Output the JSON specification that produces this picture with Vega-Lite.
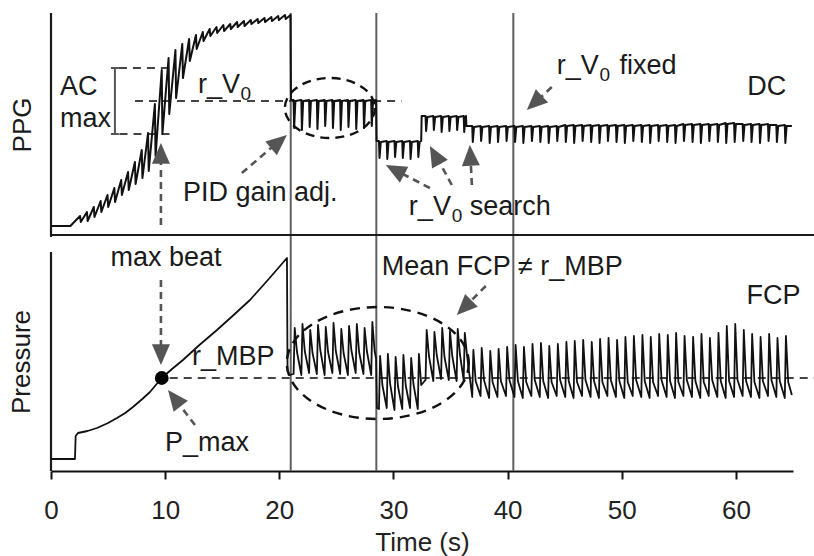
{
  "$schema": "https://vega.github.io/schema/vega-lite/v6.json",
  "width": 742,
  "height": 458,
  "autosize": "none",
  "padding": {"left": 51, "top": 13, "right": 21, "bottom": 85},
  "background": "white",
  "config": {"view": {"stroke": null}, "font": "Liberation Sans"},
  "datasets": {
    "ppg": [
      {"t":0,"v":245},{"t":1.7,"v":245},{"t":2.2,"v":251},
      {"t":2.55,"v":255},{"t":2.61,"v":249},{"t":3.15,"v":259},{"t":3.21,"v":250},
      {"t":3.75,"v":264},{"t":3.81,"v":254},{"t":4.35,"v":270},{"t":4.41,"v":259},
      {"t":4.95,"v":276},{"t":5.01,"v":264},{"t":5.55,"v":283},{"t":5.61,"v":269},
      {"t":6.15,"v":291},{"t":6.21,"v":276},{"t":6.75,"v":299},{"t":6.81,"v":281},
      {"t":7.35,"v":309},{"t":7.41,"v":287},{"t":7.95,"v":321},{"t":8.01,"v":293},
      {"t":8.5,"v":338},{"t":8.56,"v":300},{"t":9.1,"v":367},{"t":9.16,"v":315},
      {"t":9.7,"v":401},{"t":9.76,"v":337},{"t":10.3,"v":413},{"t":10.36,"v":357},
      {"t":10.9,"v":421},{"t":10.96,"v":373},{"t":11.5,"v":427},{"t":11.56,"v":393},
      {"t":12.1,"v":432},{"t":12.16,"v":410},{"t":12.7,"v":436},{"t":12.76,"v":422},
      {"t":13.3,"v":439},{"t":13.36,"v":430},{"t":13.9,"v":442},{"t":13.96,"v":435},
      {"t":14.5,"v":444},{"t":14.56,"v":438},{"t":15.1,"v":446},{"t":15.16,"v":440},
      {"t":15.7,"v":447},{"t":15.76,"v":442},{"t":16.3,"v":449},{"t":16.36,"v":444},
      {"t":16.9,"v":450},{"t":16.96,"v":445},{"t":17.5,"v":451},{"t":17.56,"v":447},
      {"t":18.1,"v":452},{"t":18.16,"v":448},{"t":18.7,"v":453},{"t":18.76,"v":449},
      {"t":19.3,"v":454},{"t":19.36,"v":450},{"t":19.9,"v":455},{"t":19.96,"v":451},
      {"t":20.5,"v":456},{"t":20.56,"v":452},{"t":20.98,"v":456},{"t":21.02,"v":371},
      {"t":21.25,"v":371},{"t":21.3,"v":343},{"t":21.41,"v":370},
      {"t":21.93,"v":371},{"t":21.98,"v":341},{"t":22.09,"v":370},
      {"t":22.61,"v":371},{"t":22.66,"v":344},{"t":22.77,"v":370},
      {"t":23.29,"v":371},{"t":23.34,"v":342},{"t":23.45,"v":370},
      {"t":23.97,"v":371},{"t":24.02,"v":345},{"t":24.13,"v":370},
      {"t":24.65,"v":371},{"t":24.7,"v":343},{"t":24.81,"v":370},
      {"t":25.33,"v":371},{"t":25.38,"v":341},{"t":25.49,"v":370},
      {"t":26.01,"v":371},{"t":26.06,"v":344},{"t":26.17,"v":370},
      {"t":26.69,"v":371},{"t":26.74,"v":342},{"t":26.85,"v":370},
      {"t":27.37,"v":371},{"t":27.42,"v":343},{"t":27.53,"v":370},
      {"t":28.05,"v":371},{"t":28.1,"v":345},{"t":28.21,"v":370},
      {"t":28.48,"v":371},{"t":28.52,"v":330},
      {"t":28.73,"v":330},{"t":28.78,"v":313},{"t":28.89,"v":329},
      {"t":29.41,"v":330},{"t":29.46,"v":312},{"t":29.57,"v":329},
      {"t":30.09,"v":330},{"t":30.14,"v":314},{"t":30.25,"v":329},
      {"t":30.77,"v":330},{"t":30.82,"v":313},{"t":30.93,"v":329},
      {"t":31.45,"v":330},{"t":31.5,"v":312},{"t":31.61,"v":329},
      {"t":32.13,"v":330},{"t":32.18,"v":314},{"t":32.29,"v":329},
      {"t":32.43,"v":330},{"t":32.47,"v":355},
      {"t":32.81,"v":355},{"t":32.86,"v":340},{"t":32.97,"v":354},
      {"t":33.49,"v":355},{"t":33.54,"v":341},{"t":33.65,"v":354},
      {"t":34.17,"v":355},{"t":34.22,"v":339},{"t":34.33,"v":354},
      {"t":34.85,"v":355},{"t":34.9,"v":340},{"t":35.01,"v":354},
      {"t":35.53,"v":355},{"t":35.58,"v":341},{"t":35.69,"v":354},
      {"t":36.15,"v":355},{"t":36.2,"v":339},{"t":36.31,"v":354},
      {"t":36.35,"v":355},{"t":36.39,"v":345},
      {"t":36.9,"v":345},{"t":36.95,"v":329},{"t":37.06,"v":344},
      {"t":37.63,"v":345},{"t":37.68,"v":330},{"t":37.79,"v":344},
      {"t":38.38,"v":345},{"t":38.43,"v":328},{"t":38.54,"v":344},
      {"t":39.11,"v":345},{"t":39.16,"v":329},{"t":39.27,"v":344},
      {"t":39.86,"v":345},{"t":39.91,"v":330},{"t":40.02,"v":344},
      {"t":40.6,"v":345},{"t":40.65,"v":329},{"t":40.76,"v":344},
      {"t":41.33,"v":345},{"t":41.38,"v":328},{"t":41.49,"v":344},
      {"t":42.08,"v":345},{"t":42.13,"v":330},{"t":42.24,"v":344},
      {"t":42.82,"v":345},{"t":42.87,"v":329},{"t":42.98,"v":344},
      {"t":43.55,"v":345},{"t":43.6,"v":328},{"t":43.71,"v":344},
      {"t":44.3,"v":345},{"t":44.35,"v":330},{"t":44.46,"v":344},
      {"t":45.05,"v":346},{"t":45.1,"v":329},{"t":45.21,"v":345},
      {"t":45.78,"v":346},{"t":45.83,"v":328},{"t":45.94,"v":345},
      {"t":46.52,"v":346},{"t":46.57,"v":330},{"t":46.68,"v":345},
      {"t":47.27,"v":346},{"t":47.32,"v":329},{"t":47.43,"v":345},
      {"t":48.0,"v":346},{"t":48.05,"v":328},{"t":48.16,"v":345},
      {"t":48.74,"v":346},{"t":48.79,"v":330},{"t":48.9,"v":345},
      {"t":49.49,"v":346},{"t":49.54,"v":329},{"t":49.65,"v":345},
      {"t":50.22,"v":346},{"t":50.27,"v":328},{"t":50.38,"v":345},
      {"t":50.96,"v":346},{"t":51.01,"v":330},{"t":51.12,"v":345},
      {"t":51.71,"v":346},{"t":51.76,"v":329},{"t":51.87,"v":345},
      {"t":52.44,"v":346},{"t":52.49,"v":328},{"t":52.6,"v":345},
      {"t":53.18,"v":346},{"t":53.23,"v":330},{"t":53.34,"v":345},
      {"t":53.93,"v":346},{"t":53.98,"v":329},{"t":54.09,"v":345},
      {"t":54.66,"v":346},{"t":54.71,"v":328},{"t":54.82,"v":345},
      {"t":55.4,"v":347},{"t":55.45,"v":330},{"t":55.56,"v":346},
      {"t":56.15,"v":347},{"t":56.2,"v":329},{"t":56.31,"v":346},
      {"t":56.88,"v":347},{"t":56.93,"v":328},{"t":57.04,"v":346},
      {"t":57.62,"v":347},{"t":57.67,"v":330},{"t":57.78,"v":346},
      {"t":58.37,"v":347},{"t":58.42,"v":329},{"t":58.53,"v":346},
      {"t":59.1,"v":348},{"t":59.15,"v":328},{"t":59.26,"v":347},
      {"t":59.84,"v":348},{"t":59.89,"v":329},{"t":60.0,"v":347},
      {"t":60.59,"v":347},{"t":60.64,"v":330},{"t":60.75,"v":346},
      {"t":61.32,"v":347},{"t":61.37,"v":329},{"t":61.48,"v":346},
      {"t":62.06,"v":347},{"t":62.11,"v":328},{"t":62.22,"v":346},
      {"t":62.81,"v":347},{"t":62.86,"v":330},{"t":62.97,"v":346},
      {"t":63.54,"v":346},{"t":63.59,"v":329},{"t":63.7,"v":345},
      {"t":64.28,"v":346},{"t":64.33,"v":328},{"t":64.44,"v":345},
      {"t":64.9,"v":345}
    ],
    "fcp": [
      {"t":0,"v":12},{"t":2.1,"v":12},{"t":2.16,"v":35},{"t":2.36,"v":38},{"t":3.2,"v":40},
      {"t":4.03,"v":43},{"t":5.0,"v":48},{"t":5.78,"v":53},{"t":6.5,"v":58},{"t":7.18,"v":64},
      {"t":8.0,"v":72},{"t":8.67,"v":79},{"t":9.7,"v":93},{"t":10.6,"v":102},{"t":11.56,"v":111},
      {"t":13.0,"v":126},{"t":14.54,"v":141},{"t":16.0,"v":156},{"t":17.43,"v":171},{"t":19.0,"v":191},
      {"t":20.67,"v":213},{"t":20.72,"v":100},{"t":20.9,"v":96},
      {"t":21.25,"v":97},{"t":21.35,"v":143},{"t":21.55,"v":119},
      {"t":21.93,"v":96},{"t":22.03,"v":147},{"t":22.23,"v":120},
      {"t":22.61,"v":98},{"t":22.71,"v":141},{"t":22.91,"v":118},
      {"t":23.29,"v":97},{"t":23.39,"v":146},{"t":23.59,"v":121},
      {"t":23.97,"v":96},{"t":24.07,"v":144},{"t":24.27,"v":119},
      {"t":24.65,"v":98},{"t":24.75,"v":148},{"t":24.95,"v":120},
      {"t":25.33,"v":97},{"t":25.43,"v":142},{"t":25.63,"v":118},
      {"t":26.01,"v":96},{"t":26.11,"v":145},{"t":26.31,"v":121},
      {"t":26.69,"v":98},{"t":26.79,"v":147},{"t":26.99,"v":119},
      {"t":27.37,"v":97},{"t":27.47,"v":143},{"t":27.67,"v":120},
      {"t":28.05,"v":96},{"t":28.15,"v":149},{"t":28.35,"v":120},
      {"t":28.48,"v":112},{"t":28.55,"v":63},
      {"t":28.73,"v":62},{"t":28.83,"v":115},{"t":29.03,"v":86},
      {"t":29.41,"v":63},{"t":29.51,"v":117},{"t":29.71,"v":87},
      {"t":30.09,"v":61},{"t":30.19,"v":114},{"t":30.39,"v":85},
      {"t":30.77,"v":62},{"t":30.87,"v":116},{"t":31.07,"v":86},
      {"t":31.45,"v":63},{"t":31.55,"v":113},{"t":31.75,"v":87},
      {"t":32.13,"v":62},{"t":32.23,"v":117},{"t":32.43,"v":86},
      {"t":32.81,"v":91},{"t":32.91,"v":141},{"t":33.11,"v":115},
      {"t":33.49,"v":90},{"t":33.59,"v":139},{"t":33.79,"v":116},
      {"t":34.17,"v":92},{"t":34.27,"v":143},{"t":34.47,"v":114},
      {"t":34.85,"v":91},{"t":34.95,"v":140},{"t":35.15,"v":115},
      {"t":35.53,"v":90},{"t":35.63,"v":142},{"t":35.83,"v":116},
      {"t":36.15,"v":91},{"t":36.25,"v":138},{"t":36.45,"v":115},
      {"t":36.9,"v":74},{"t":37.0,"v":121},{"t":37.2,"v":90},
      {"t":37.63,"v":75},{"t":37.73,"v":123},{"t":37.93,"v":91},
      {"t":38.38,"v":73},{"t":38.48,"v":120},{"t":38.68,"v":89},
      {"t":39.11,"v":74},{"t":39.21,"v":122},{"t":39.41,"v":90},
      {"t":39.86,"v":75},{"t":39.96,"v":124},{"t":40.16,"v":91},
      {"t":40.6,"v":74},{"t":40.7,"v":126},{"t":40.9,"v":90},
      {"t":41.33,"v":73},{"t":41.43,"v":124},{"t":41.63,"v":89},
      {"t":42.08,"v":75},{"t":42.18,"v":127},{"t":42.38,"v":91},
      {"t":42.82,"v":74},{"t":42.92,"v":128},{"t":43.12,"v":90},
      {"t":43.55,"v":73},{"t":43.65,"v":125},{"t":43.85,"v":89},
      {"t":44.3,"v":75},{"t":44.4,"v":127},{"t":44.6,"v":91},
      {"t":45.05,"v":74},{"t":45.15,"v":129},{"t":45.35,"v":90},
      {"t":45.78,"v":73},{"t":45.88,"v":130},{"t":46.08,"v":89},
      {"t":46.52,"v":75},{"t":46.62,"v":131},{"t":46.82,"v":91},
      {"t":47.27,"v":74},{"t":47.37,"v":129},{"t":47.57,"v":90},
      {"t":48.0,"v":73},{"t":48.1,"v":132},{"t":48.3,"v":89},
      {"t":48.74,"v":75},{"t":48.84,"v":133},{"t":49.04,"v":91},
      {"t":49.49,"v":74},{"t":49.59,"v":131},{"t":49.79,"v":90},
      {"t":50.22,"v":73},{"t":50.32,"v":134},{"t":50.52,"v":89},
      {"t":50.96,"v":75},{"t":51.06,"v":135},{"t":51.26,"v":91},
      {"t":51.71,"v":74},{"t":51.81,"v":136},{"t":52.01,"v":90},
      {"t":52.44,"v":73},{"t":52.54,"v":134},{"t":52.74,"v":89},
      {"t":53.18,"v":75},{"t":53.28,"v":137},{"t":53.48,"v":91},
      {"t":53.93,"v":74},{"t":54.03,"v":136},{"t":54.23,"v":90},
      {"t":54.66,"v":73},{"t":54.76,"v":138},{"t":54.96,"v":89},
      {"t":55.4,"v":75},{"t":55.5,"v":135},{"t":55.7,"v":91},
      {"t":56.15,"v":74},{"t":56.25,"v":134},{"t":56.45,"v":90},
      {"t":56.88,"v":73},{"t":56.98,"v":137},{"t":57.18,"v":89},
      {"t":57.62,"v":75},{"t":57.72,"v":133},{"t":57.92,"v":91},
      {"t":58.37,"v":74},{"t":58.47,"v":138},{"t":58.67,"v":90},
      {"t":59.1,"v":73},{"t":59.2,"v":145},{"t":59.4,"v":90},
      {"t":59.84,"v":74},{"t":59.94,"v":147},{"t":60.14,"v":91},
      {"t":60.59,"v":75},{"t":60.69,"v":141},{"t":60.89,"v":90},
      {"t":61.32,"v":74},{"t":61.42,"v":137},{"t":61.62,"v":89},
      {"t":62.06,"v":73},{"t":62.16,"v":134},{"t":62.36,"v":90},
      {"t":62.81,"v":75},{"t":62.91,"v":137},{"t":63.11,"v":91},
      {"t":63.54,"v":74},{"t":63.64,"v":133},{"t":63.84,"v":90},
      {"t":64.28,"v":73},{"t":64.38,"v":135},{"t":64.58,"v":89},
      {"t":64.9,"v":76}
    ],
    "phases": [{"t":21.0,"v":0,"v2":458},{"t":28.5,"v":0,"v2":458},{"t":40.5,"v":0,"v2":458}],
    "frame": [
      {"t":0,"v":234,"t2":0,"v2":458},
      {"t":0,"v":0,"t2":0,"v2":219},
      {"t":0,"v":236,"t2":66.9,"v2":236}
    ],
    "bracket": [
      {"t":5.6,"v":337,"t2":5.6,"v2":403},
      {"t":5.25,"v":403,"t2":5.95,"v2":403},
      {"t":5.25,"v":337,"t2":5.95,"v2":337}
    ],
    "guides": [
      {"t":5.95,"v":403,"t2":10.2,"v2":403},
      {"t":6.0,"v":337,"t2":10.8,"v2":337},
      {"t":7.36,"v":370,"t2":30.7,"v2":370},
      {"t":10.4,"v":93,"t2":66.9,"v2":93}
    ],
    "shafts": [
      {"t":9.63,"v":246,"t2":9.63,"v2":322},
      {"t":16.72,"v":298,"t2":20.2,"v2":332},
      {"t":43.87,"v":384,"t2":42.0,"v2":364},
      {"t":33.19,"v":283,"t2":29.8,"v2":303},
      {"t":35.11,"v":286,"t2":33.5,"v2":320},
      {"t":36.87,"v":286,"t2":36.72,"v2":320},
      {"t":38.09,"v":185,"t2":35.9,"v2":160},
      {"t":9.63,"v":191,"t2":9.63,"v2":112},
      {"t":12.61,"v":46,"t2":10.6,"v2":76}
    ],
    "heads": [
      {"t":9.63,"v":328,"dir":0},
      {"t":20.67,"v":336,"dir":50},
      {"t":41.68,"v":361,"dir":227},
      {"t":29.33,"v":306,"dir":298},
      {"t":33.19,"v":325,"dir":331},
      {"t":36.69,"v":326,"dir":357},
      {"t":35.55,"v":156,"dir":225},
      {"t":9.63,"v":106,"dir":180},
      {"t":10.25,"v":81,"dir":322}
    ],
    "ring1": [{"t":24.43,"v":363}],
    "ring2": [{"t":28.63,"v":108}],
    "dot": [{"t":9.7,"v":93}],
    "notes": [
      {"t":0.79,"v":384,"s":"AC"},
      {"t":0.79,"v":352,"s":"max"},
      {"t":12.87,"v":386,"s":"r_V"},
      {"t":11.56,"v":278,"s":"PID gain adj."},
      {"t":44.31,"v":405,"s":"r_V"},
      {"t":49.8,"v":405,"s":"fixed"},
      {"t":31.35,"v":264,"s":"r_V"},
      {"t":36.69,"v":264,"s":"search"},
      {"t":12.35,"v":114,"s":"r_MBP"},
      {"t":9.98,"v":28,"s":"P_max"},
      {"t":28.98,"v":204,"s":"Mean FCP ≠ r_MBP"}
    ],
    "centred": [
      {"t":62.7,"v":384,"s":"DC"},
      {"t":63.3,"v":175,"s":"FCP"},
      {"t":10.07,"v":213,"s":"max beat"}
    ],
    "subs": [
      {"t":16.6,"v":377,"s":"0"},
      {"t":48.05,"v":396,"s":"0"},
      {"t":35.1,"v":255,"s":"0"}
    ],
    "ytitles": [
      {"t":-2.45,"v":346,"s":"PPG"},
      {"t":-2.54,"v":109,"s":"Pressure"}
    ]
  },
  "encoding": {
    "x": {"field": "t", "type": "quantitative", "scale": {"domain": [0, 65], "nice": false},
      "axis": {"values": [0, 10, 20, 30, 40, 50, 60], "format": "d", "title": "Time (s)",
        "grid": false, "labelFont": "Liberation Sans", "titleFont": "Liberation Sans",
        "labelFontSize": 26, "titleFontSize": 26, "titleFontWeight": "normal",
        "labelColor": "#222", "titleColor": "#222", "domainColor": "#111", "domainWidth": 2.2,
        "tickColor": "#111", "tickWidth": 2, "tickSize": 8, "labelPadding": 18, "titlePadding": 6,
        "labelFlush": false, "labelOverlap": false}},
    "y": {"field": "v", "type": "quantitative", "scale": {"domain": [0, 458], "nice": false}, "axis": null}
  },
  "layer": [
    {
      "data": {"name": "phases"},
      "mark": {"type": "rule", "color": "#5f5f5f", "strokeWidth": 2},
      "encoding": {"y2": {"field": "v2"}}
    },
    {
      "data": {"name": "frame"},
      "mark": {"type": "rule", "color": "#1a1a1a", "strokeWidth": 2.2},
      "encoding": {"x2": {"field": "t2"}, "y2": {"field": "v2"}}
    },
    {
      "data": {"name": "bracket"},
      "mark": {"type": "rule", "color": "#555", "strokeWidth": 2},
      "encoding": {"x2": {"field": "t2"}, "y2": {"field": "v2"}}
    },
    {
      "data": {"name": "guides"},
      "mark": {"type": "rule", "color": "#444", "strokeWidth": 2, "strokeDash": [8, 6]},
      "encoding": {"x2": {"field": "t2"}, "y2": {"field": "v2"}}
    },
    {
      "data": {"name": "ppg"},
      "mark": {"type": "line", "color": "#111", "strokeWidth": 2, "strokeJoin": "round"},
      "encoding": {}
    },
    {
      "data": {"name": "fcp"},
      "mark": {"type": "line", "color": "#111", "strokeWidth": 1.8, "strokeJoin": "round"},
      "encoding": {}
    },
    {
      "data": {"name": "ring1"},
      "mark": {"type": "point", "shape": "M1,0C1,0.368,0.552,0.667,0,0.667C-0.552,0.667,-1,0.368,-1,0C-1,-0.368,-0.552,-0.667,0,-0.667C0.552,-0.667,1,-0.368,1,0Z",
        "size": 8100, "filled": false, "stroke": "#111", "strokeWidth": 2.4, "strokeDash": [9, 6], "opacity": 1}
    },
    {
      "data": {"name": "ring2"},
      "mark": {"type": "point", "shape": "M1,0C1,0.34,0.552,0.615,0,0.615C-0.552,0.615,-1,0.34,-1,0C-1,-0.34,-0.552,-0.615,0,-0.615C0.552,-0.615,1,-0.34,1,0Z",
        "size": 33124, "filled": false, "stroke": "#111", "strokeWidth": 2.4, "strokeDash": [10, 7], "opacity": 1}
    },
    {
      "data": {"name": "shafts"},
      "mark": {"type": "rule", "color": "#555", "strokeWidth": 2.6, "strokeDash": [7, 5]},
      "encoding": {"x2": {"field": "t2"}, "y2": {"field": "v2"}}
    },
    {
      "data": {"name": "heads"},
      "mark": {"type": "point", "shape": "M0,0L-1,2.3L1,2.3Z", "size": 324, "filled": true,
        "color": "#555", "opacity": 1},
      "encoding": {"angle": {"field": "dir", "type": "quantitative", "scale": null}}
    },
    {
      "data": {"name": "dot"},
      "mark": {"type": "point", "shape": "circle", "size": 190, "filled": true, "color": "#000", "opacity": 1}
    },
    {
      "data": {"name": "notes"},
      "mark": {"type": "text", "align": "left", "baseline": "middle", "font": "Liberation Sans", "fontSize": 27, "color": "#1a1a1a"},
      "encoding": {"text": {"field": "s"}}
    },
    {
      "data": {"name": "centred"},
      "mark": {"type": "text", "align": "center", "baseline": "middle", "font": "Liberation Sans", "fontSize": 27, "color": "#1a1a1a"},
      "encoding": {"text": {"field": "s"}}
    },
    {
      "data": {"name": "subs"},
      "mark": {"type": "text", "align": "left", "baseline": "middle", "font": "Liberation Sans", "fontSize": 19, "color": "#1a1a1a"},
      "encoding": {"text": {"field": "s"}}
    },
    {
      "data": {"name": "ytitles"},
      "mark": {"type": "text", "align": "center", "baseline": "middle", "angle": 270, "font": "Liberation Sans", "fontSize": 26, "color": "#1a1a1a"},
      "encoding": {"text": {"field": "s"}}
    }
  ]
}
